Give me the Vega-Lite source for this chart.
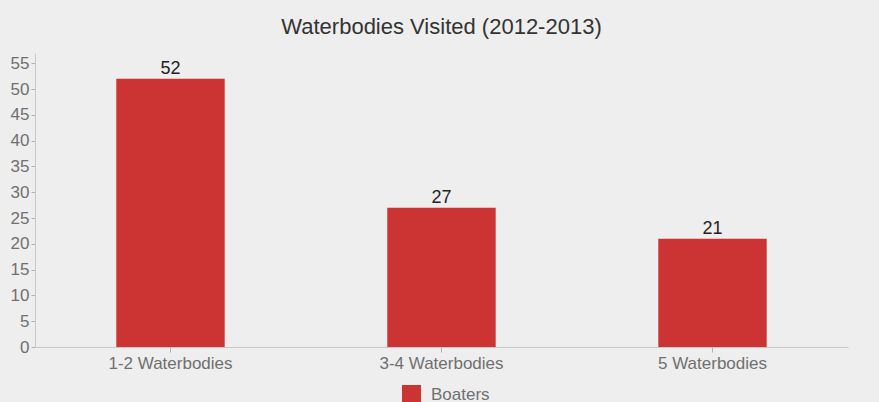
{
  "$schema": "https://vega.github.io/schema/vega-lite/v6.json",
  "width": 813,
  "height": 294,
  "autosize": {"type": "none"},
  "padding": {"left": 35, "top": 53, "right": 31, "bottom": 55},
  "background": "#eeeeee",
  "title": {
    "text": "Waterbodies Visited (2012-2013)",
    "font": "Liberation Sans",
    "fontSize": 22,
    "fontWeight": "normal",
    "color": "#333333",
    "offset": 14
  },
  "data": {
    "values": [
      {"category": "1-2 Waterbodies", "visitors": 52, "series": "Boaters"},
      {"category": "3-4 Waterbodies", "visitors": 27, "series": "Boaters"},
      {"category": "5 Waterbodies", "visitors": 21, "series": "Boaters"}
    ]
  },
  "encoding": {
    "x": {
      "field": "category",
      "type": "nominal",
      "sort": null,
      "scale": {"paddingInner": 0.6, "paddingOuter": 0.3},
      "axis": {
        "title": null,
        "labelAngle": 0,
        "labelFont": "Liberation Sans",
        "labelFontSize": 17,
        "labelColor": "#707070",
        "labelPadding": 3,
        "domainColor": "#c8c8c8",
        "tickColor": "#b0b0b0",
        "tickSize": 5,
        "grid": false
      }
    },
    "y": {
      "field": "visitors",
      "type": "quantitative",
      "scale": {"domain": [0, 57], "nice": false},
      "axis": {
        "title": null,
        "values": [0, 5, 10, 15, 20, 25, 30, 35, 40, 45, 50, 55],
        "labelFont": "Liberation Sans",
        "labelFontSize": 17,
        "labelColor": "#707070",
        "labelPadding": 2,
        "domainColor": "#c8c8c8",
        "tickColor": "#b0b0b0",
        "tickSize": 4,
        "grid": false
      }
    }
  },
  "layer": [
    {
      "mark": {"type": "bar", "color": "#cc3333"},
      "encoding": {
        "color": {
          "field": "series",
          "type": "nominal",
          "scale": {"domain": ["Boaters"], "range": ["#cc3333"]},
          "legend": {
            "title": null,
            "orient": "none",
            "legendX": 367,
            "legendY": 332,
            "symbolType": "square",
            "symbolSize": 361,
            "symbolStrokeWidth": 0,
            "labelFont": "Liberation Sans",
            "labelFontSize": 17,
            "labelColor": "#707070",
            "labelOffset": 10,
            "padding": 0
          }
        }
      }
    },
    {
      "mark": {
        "type": "text",
        "baseline": "bottom",
        "dy": -1,
        "font": "Liberation Sans",
        "fontSize": 18,
        "color": "#222222"
      },
      "encoding": {"text": {"field": "visitors", "type": "quantitative"}}
    }
  ],
  "config": {"view": {"stroke": null}}
}
